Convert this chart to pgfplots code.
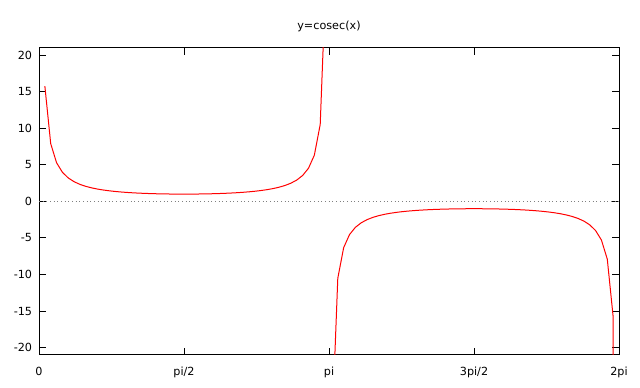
\documentclass[border=0pt]{standalone}
\usepackage{pgfplots}
\pgfplotsset{compat=1.18}
\usepackage{fontspec}
\setmainfont{DejaVu Sans}
\newcommand{\gfont}{\fontsize{8.4}{10}\selectfont}
\begin{document}
\begin{tikzpicture}
\useasboundingbox (-29.25pt,-24pt) rectangle (450.75pt,266.25pt);
\begin{axis}[
  scale only axis,
  width=435pt, height=230.25pt,
  at={(0,0)}, anchor=south west,
  xmin=0, xmax=6.283185, ymin=-21, ymax=21,
  axis line style={line width=0.75pt},
  tick style={line width=0.75pt, black},
  tick align=inside,
  major tick length=5pt,
  xtick={0,1.570796,3.141593,4.712389,6.283185},
  xticklabels={0,pi/2,pi,3pi/2,2pi},
  ytick={-20,-15,-10,-5,0,5,10,15,20},
  /pgf/number format/assume math mode=true,
  yticklabel style={font=\gfont, anchor=east, inner sep=0pt, xshift=-5pt},
  xticklabel style={font=\gfont, anchor=base, inner sep=0pt, yshift=-15.5pt},
]
\addplot[gray, dotted, line width=0.75pt] coordinates {(0,0) (6.283185,0)};
\addplot[red, line width=0.75pt] coordinates {
(0.0635,15.767) (0.1269,7.8995) (0.1904,5.2840) (0.2539,3.9817) (0.3173,3.2048)
(0.3808,2.6906) (0.4443,2.3267) (0.5077,2.0568) (0.5712,1.8497) (0.6347,1.6866)
(0.6981,1.5557) (0.7616,1.4491) (0.8251,1.3613) (0.8885,1.2884) (0.9520,1.2276)
(1.0155,1.1768) (1.0789,1.1345) (1.1424,1.0993) (1.2059,1.0705) (1.2693,1.0472)
(1.3328,1.0290) (1.3963,1.0154) (1.4597,1.0062) (1.5232,1.0011) (1.5867,1.0001)
(1.6501,1.0032) (1.7136,1.0103) (1.7771,1.0217) (1.8405,1.0375) (1.9040,1.0582)
(1.9675,1.0842) (2.0309,1.1161) (2.0944,1.1547) (2.1579,1.2011) (2.2213,1.2567)
(2.2848,1.3232) (2.3483,1.4031) (2.4117,1.4998) (2.4752,1.6177) (2.5387,1.7635)
(2.6021,1.9467) (2.6656,2.1824) (2.7291,2.4942) (2.7925,2.9238) (2.8560,3.5495)
(2.9195,4.5390) (2.9829,6.3291) (3.0464,10.520) (3.1099,31.518)
};
\addplot[red, line width=0.75pt] coordinates {
(3.1733,-31.518) (3.2368,-10.520) (3.3003,-6.3291) (3.3637,-4.5390) (3.4272,-3.5495)
(3.4907,-2.9238) (3.5541,-2.4942) (3.6176,-2.1824) (3.6811,-1.9467) (3.7445,-1.7635)
(3.8080,-1.6177) (3.8715,-1.4998) (3.9349,-1.4031) (3.9984,-1.3232) (4.0619,-1.2567)
(4.1253,-1.2011) (4.1888,-1.1547) (4.2523,-1.1161) (4.3157,-1.0842) (4.3792,-1.0582)
(4.4427,-1.0375) (4.5061,-1.0217) (4.5696,-1.0103) (4.6331,-1.0032) (4.6965,-1.0001)
(4.7600,-1.0011) (4.8235,-1.0062) (4.8869,-1.0154) (4.9504,-1.0290) (5.0139,-1.0472)
(5.0773,-1.0705) (5.1408,-1.0993) (5.2043,-1.1345) (5.2677,-1.1768) (5.3312,-1.2276)
(5.3947,-1.2884) (5.4581,-1.3613) (5.5216,-1.4491) (5.5851,-1.5557) (5.6485,-1.6866)
(5.7120,-1.8497) (5.7755,-2.0568) (5.8389,-2.3267) (5.9024,-2.6906) (5.9659,-3.2048)
(6.0293,-3.9817) (6.0928,-5.2840) (6.1563,-7.8995) (6.2197,-15.767) (6.2832,-1000)
};
\end{axis}
\node[anchor=base, font=\gfont, inner sep=0pt] at (217.5pt,244.5pt) {y=cosec(x)};
\end{tikzpicture}
\end{document}
